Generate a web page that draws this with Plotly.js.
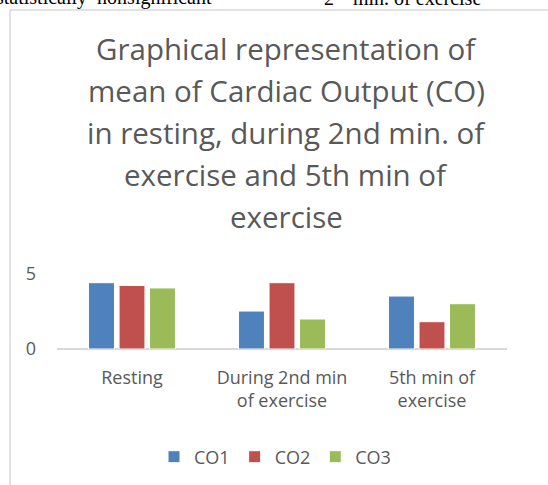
<!DOCTYPE html>
<html>
<head>
<meta charset="utf-8">
<script src="https://cdn.plot.ly/plotly-3.0.1.min.js"></script>
<style>
  html, body { margin: 0; padding: 0; background: #ffffff; }
  #chart { width: 548px; height: 485px; }
</style>
</head>
<body>
<div id="chart"></div>
<script>
// ---- data ----
var categories = ["Resting", "During 2nd min<br>of exercise", "5th min of<br>exercise"];
var seriesNames = ["CO1", "CO2", "CO3"];
var co1 = [4.42, 2.53, 3.53];
var co2 = [4.24, 4.42, 1.82];
var co3 = [4.07, 2.0, 3.02];
var titleLines = [
  "Graphical representation of",
  "mean of Cardiac Output (CO)",
  "in resting, during 2nd min. of",
  "exercise and 5th min of",
  "exercise"
];
var pageTextLeft = "statistically  nonsignificant";
var pageTextRight = "2<sup>nd</sup> min. of exercise";

// ---- layout helpers ----
var W = 548, H = 485;
var L = 57, R = 507, T = 274, B = 349;
function px(x) { return (x - L) / (R - L); }
function py(y) { return (B - y) / (B - T); }

var colors = ["#4F81BD", "#C0504D", "#9BBB59"];
var seriesVals = [co1, co2, co3];
var grey = "#595959";
var font = "Open Sans, Lato, sans-serif";

var traces = seriesNames.map(function (n, i) {
  return {
    type: "bar",
    name: n,
    x: categories,
    y: seriesVals[i],
    marker: { color: colors[i], line: { color: "#ffffff", width: 1 } },
    hoverinfo: "x+y+name"
  };
});

var titleSize = 29.5;
var annotations = titleLines.map(function (t, i) {
  return {
    text: t, xref: "paper", yref: "paper",
    x: px(286), y: py(60 + 42 * i - 0.388 * titleSize),
    xanchor: "center", yanchor: "middle",
    showarrow: false,
    font: { family: font, size: titleSize, color: grey }
  };
});
annotations.push({
  text: pageTextLeft, xref: "paper", yref: "paper",
  x: px(214), y: py(11), xanchor: "right", yanchor: "bottom",
  showarrow: false, font: { family: "Liberation Serif, Times New Roman, serif", size: 20, color: "#000000" }
});
annotations.push({
  text: pageTextRight, xref: "paper", yref: "paper",
  x: px(322), y: py(11), xanchor: "left", yanchor: "bottom",
  showarrow: false, font: { family: "Liberation Serif, Times New Roman, serif", size: 20, color: "#000000" }
});

var frameColor = "#d9d9d9";
var shapes = [
  { type: "line", xref: "paper", yref: "paper", x0: px(10), x1: px(10), y0: py(10), y1: py(520),
    line: { color: frameColor, width: 1.5 } },
  { type: "line", xref: "paper", yref: "paper", x0: px(10), x1: px(600), y0: py(10), y1: py(10),
    line: { color: frameColor, width: 1.5 } }
];

var layout = {
  width: W, height: H,
  margin: { l: L, r: W - R, t: T, b: H - B, autoexpand: false },
  paper_bgcolor: "#ffffff",
  plot_bgcolor: "#ffffff",
  font: { family: font, color: grey, size: 18 },
  showlegend: true,
  barmode: "group",
  bargap: 0.39,
  bargroupgap: 0.15,
  xaxis: {
    type: "category",
    showgrid: false, showline: false, zeroline: false,
    ticks: "", ticklabelstandoff: 16,
    tickfont: { family: font, size: 18, color: grey },
    fixedrange: true
  },
  yaxis: {
    range: [0, 5], tickvals: [0, 5], ticktext: ["0", "5"],
    showgrid: true, gridcolor: frameColor, gridwidth: 1.5,
    zeroline: true, zerolinecolor: frameColor, zerolinewidth: 1.5,
    showline: false, ticks: "", ticklabelstandoff: 20,
    tickfont: { family: font, size: 18, color: grey },
    fixedrange: true
  },
  legend: {
    orientation: "h",
    x: px(275), xanchor: "center",
    y: py(457), yanchor: "middle",
    font: { family: font, size: 18, color: grey },
    bgcolor: "rgba(0,0,0,0)",
    traceorder: "normal"
  },
  annotations: annotations,
  shapes: shapes
};

Plotly.newPlot("chart", traces, layout, { displayModeBar: false, staticPlot: true });
</script>
</body>
</html>
